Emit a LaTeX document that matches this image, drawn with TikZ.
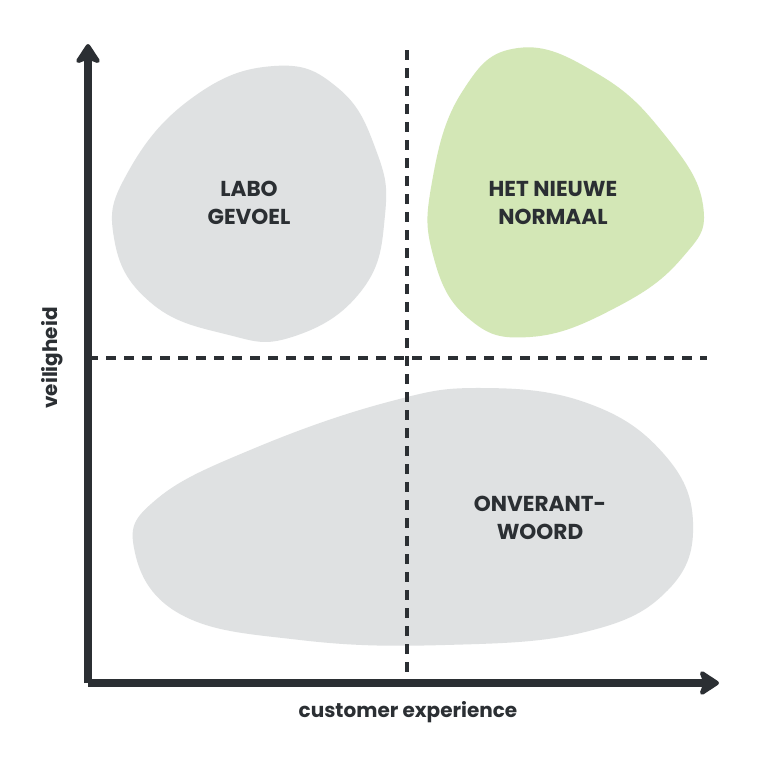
\documentclass[tikz,border=0pt]{standalone}
\usepackage{fontspec}
\setmainfont{Poppins}[BoldFont={Poppins Bold}]
\usetikzlibrary{arrows.meta}
\definecolor{ink}{HTML}{2B2F33}
\definecolor{blobgray}{HTML}{DFE1E2}
\definecolor{blobgreen}{HTML}{D3E7B6}
\tikzset{
  axis/.style={ink, line width=6pt, line join=round, -{Stealth[length=17pt,width=22pt,inset=4pt,round]}},
  divider/.style={ink, line width=2.6pt, dash pattern=on 7.5pt off 6pt},
  quadlabel/.style={font=\bfseries\fontsize{16.2}{21}\selectfont, text=ink, align=center},
  axislabel/.style={font=\bfseries\fontsize{15}{18}\selectfont, text=ink}
}
\begin{document}
\begin{tikzpicture}[x=0.75pt,y=-0.75pt]
\useasboundingbox[fill=white] (0,0) rectangle (769,768);
% blobs
\fill[blobgray] plot[smooth cycle, tension=0.75] coordinates {(274,66) (338,88) (376,150) (385,215) (362,290) (292,337) (225,334) (150,302) (114,238) (128,172) (192,98)};
\fill[blobgreen] plot[smooth cycle, tension=0.75] coordinates {(518,48) (598,74) (664,134) (703,205) (682,258) (615,308) (530,337) (468,318) (433,255) (432,182) (462,92)};
\fill[blobgray] plot[smooth cycle, tension=0.7] coordinates {(482,388) (587,403) (663,453) (693,522) (668,590) (585,632) (445,645) (300,640) (180,614) (134,548) (158,498) (255,448) (388,402)};
% dashed dividers
\coordinate (vtop) at (407,50);
\coordinate (vbot) at (407,683);
\coordinate (hleft) at (88,358);
\coordinate (hright) at (707,358);
\draw[divider] (vtop) -- (vbot);
\draw[divider] (hleft) -- (hright);
% axes
\coordinate (origin) at (88,683);
\coordinate (ytip) at (88,44);
\coordinate (xtip) at (719,683);
\draw[axis] (origin) -- (ytip);
\draw[axis] (origin) -- (xtip);
% labels
\node[quadlabel] (labo) at (249,203) {LABO\\GEVOEL};
\node[quadlabel] (normaal) at (553,203) {HET NIEUWE\\NORMAAL};
\node[quadlabel] (onverant) at (540,518) {ONVERANT-\\WOORD};
\node[axislabel] (xlabel) at (408,712) {customer experience};
\node[axislabel, rotate=90] (ylabel) at (52,358) {veiligheid};
\end{tikzpicture}
\end{document}
